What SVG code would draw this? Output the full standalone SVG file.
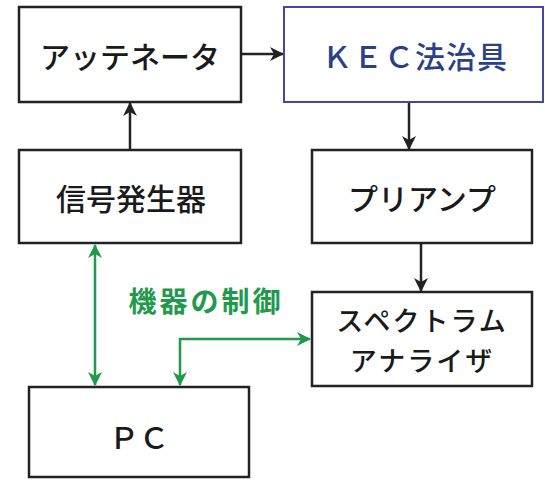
<svg xmlns="http://www.w3.org/2000/svg" width="545" height="480" viewBox="0 0 545 480">
<style>
.box{fill:#fff;stroke:#222;stroke-width:2.5}
.kec{fill:#fff;stroke:#4646a8;stroke-width:2}
.t{font-family:"Noto Sans CJK JP","Noto Sans CJK SC",sans-serif;font-size:30px;font-weight:500;fill:#1a1a1a;text-anchor:middle;dominant-baseline:central}
.tb{fill:#2b3f8c;letter-spacing:1px}
.sp{font-size:27px;letter-spacing:2px}
.g{font-family:"Noto Sans CJK JP",sans-serif;font-size:28px;font-weight:bold;fill:#1f9a4c;letter-spacing:3px;text-anchor:middle;dominant-baseline:central}
.ln{fill:none;stroke:#222;stroke-width:2.5}
.gl{fill:none;stroke:#1f9a4c;stroke-width:2.5}
</style>
<defs>
<marker id="ab" viewBox="0 0 14 14" refX="13" refY="7" markerWidth="14" markerHeight="14" markerUnits="userSpaceOnUse" orient="auto-start-reverse">
<path d="M0,0 L14,7 L0,14 L4,7 z" fill="#222"/>
</marker>
<marker id="ag" viewBox="0 0 14 14" refX="13" refY="7" markerWidth="14" markerHeight="14" markerUnits="userSpaceOnUse" orient="auto-start-reverse">
<path d="M0,0 L14,7 L0,14 L4,7 z" fill="#1f9a4c"/>
</marker>
</defs>
<rect width="545" height="480" fill="#fff"/>
<g id="connectors">
<line class="ln" x1="241" y1="54" x2="283" y2="54" marker-end="url(#ab)"/>
<line class="ln" x1="130" y1="150" x2="130" y2="103" marker-end="url(#ab)"/>
<line class="ln" x1="409" y1="102" x2="409" y2="149" marker-end="url(#ab)"/>
<line class="ln" x1="421" y1="243" x2="421" y2="291" marker-end="url(#ab)"/>
<line class="gl" x1="95" y1="245" x2="95" y2="385" marker-start="url(#ag)" marker-end="url(#ag)"/>
<polyline class="gl" points="180,385 180,339 310,339" marker-start="url(#ag)" marker-end="url(#ag)"/>
<text class="g" x="206" y="300">機器の制御</text>
</g>
<g id="attenuator">
<rect class="box" x="19" y="7" width="222" height="95"/>
<text class="t" x="130" y="55">アッテネータ</text>
</g>
<g id="kec">
<rect class="kec" x="284" y="7" width="259" height="95"/>
<text class="t tb" x="415" y="55">ＫＥＣ法治具</text>
</g>
<g id="siggen">
<rect class="box" x="19" y="150" width="222" height="93"/>
<text class="t" x="131" y="197">信号発生器</text>
</g>
<g id="preamp">
<rect class="box" x="312" y="150" width="220" height="93"/>
<text class="t" x="422" y="197">プリアンプ</text>
</g>
<g id="spectrum">
<rect class="box" x="312" y="292" width="220" height="94"/>
<text class="t sp" x="422" y="319">スペクトラム</text>
<text class="t sp" x="422" y="359">アナライザ</text>
</g>
<g id="pc">
<rect class="box" x="29" y="387" width="220" height="90"/>
<text class="t" x="139" y="436">ＰＣ</text>
</g>
</svg>
